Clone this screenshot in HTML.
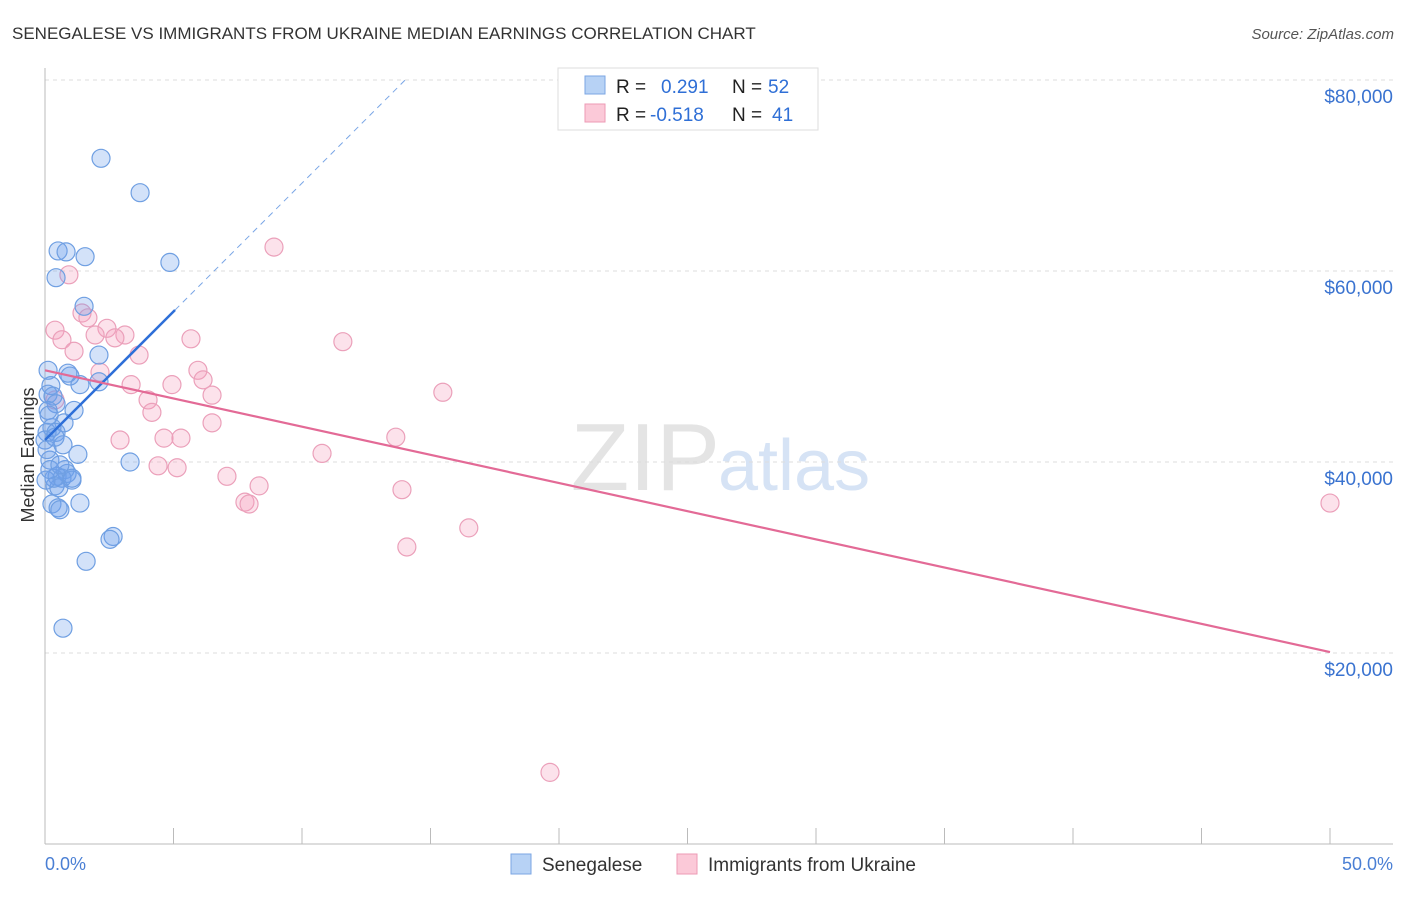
<!DOCTYPE html>
<html><head><meta charset="utf-8"><style>
body{margin:0;background:#fff;font-family:"Liberation Sans",sans-serif;}
svg text{font-family:"Liberation Sans",sans-serif;}
</style></head><body>
<svg id="c" width="1406" height="892" xmlns="http://www.w3.org/2000/svg">
<text x="12" y="39" font-size="17" fill="#333">SENEGALESE VS IMMIGRANTS FROM UKRAINE MEDIAN EARNINGS CORRELATION CHART</text>
<text x="1394" y="39" font-size="15" fill="#555" font-style="italic" text-anchor="end">Source: ZipAtlas.com</text>
<text x="720" y="490" font-size="96" fill="#e4e4e4" text-anchor="end" font-family="Liberation Serif">ZIP</text>
<text x="718" y="490" font-size="72" fill="#d6e3f5">atlas</text>
<g id="grid"></g>
<g id="pts"></g>
<g id="lines"></g>
<text x="34" y="455" font-size="18" fill="#333" text-anchor="middle" transform="rotate(-90 34 455)">Median Earnings</text>
<text x="45" y="870" font-size="18" fill="#4a7fd4">0.0%</text>
<text x="1393" y="870" font-size="18" fill="#4a7fd4" text-anchor="end">50.0%</text>
<g>
<rect x="558" y="68" width="260" height="62" fill="#fff" stroke="#ddd"/>
<rect x="585" y="76" width="20" height="18" fill="#b7d2f5" stroke="#7ba6e3"/>
<rect x="585" y="104" width="20" height="18" fill="#fbc9d8" stroke="#ec9ab5"/>
<text x="616" y="93" font-size="19" fill="#222">R = <tspan fill="#2f6fd6" x="661">0.291</tspan><tspan fill="#222" x="732">N = </tspan><tspan fill="#2f6fd6" x="768">52</tspan></text>
<text x="616" y="121" font-size="19" fill="#222">R = <tspan fill="#2f6fd6" x="650">-0.518</tspan><tspan fill="#222" x="732">N = </tspan><tspan fill="#2f6fd6" x="772">41</tspan></text>
</g>
<g>
<rect x="511" y="854" width="20" height="20" fill="#b7d2f5" stroke="#7ba6e3"/>
<text x="542" y="871" font-size="19" fill="#333">Senegalese</text>
<rect x="677" y="854" width="20" height="20" fill="#fbc9d8" stroke="#ec9ab5"/>
<text x="708" y="871" font-size="19" fill="#333">Immigrants from Ukraine</text>
</g>
</svg>
<script>
const yTicks=[20000,40000,60000,80000];
const yTickLabels=["$20,000","$40,000","$60,000","$80,000"];
const xTicks=[0,5,10,15,20,25,30,35,40,45,50];
const blueX=[2.18,3.70,0.51,0.82,1.56,4.86,0.43,1.52,2.10,0.12,0.89,0.97,2.10,1.36,0.23,0.12,0.31,0.43,1.13,0.12,0.74,0.27,0.08,0.43,0.70,1.28,0.19,3.31,0.78,0.86,0.47,0.66,1.05,0.39,0.54,1.36,0.27,0.51,0.58,2.65,2.53,1.60,0.70,0.0,0.35,0.04,0.19,0.08,0.39,0.58,1.05,0.16];
const blueY=[71800,68200,62100,62000,61500,60900,59300,56300,51200,49600,49300,49000,48400,48100,48000,47100,46900,46100,45400,45400,44100,43600,43100,43100,41800,40800,40200,40000,39200,38800,38500,38300,38100,37500,37300,35700,35600,35200,35000,32200,31900,29600,22600,42300,38300,38100,39200,41300,42600,39700,38300,44900];
const pinkX=[8.91,0.93,0.39,0.66,1.44,1.67,2.41,3.11,1.95,2.72,5.68,11.59,1.13,3.66,2.14,5.95,3.35,4.94,6.15,4.01,4.16,6.50,15.48,6.50,2.92,4.63,5.29,13.65,10.78,4.40,5.14,7.08,8.33,13.89,7.78,7.94,16.49,14.08,19.65,50.0,0.39];
const pinkY=[62500,59600,53800,52800,55600,55100,54000,53300,53300,53000,52900,52600,51600,51200,49400,49600,48100,48100,48600,46500,45200,47000,47300,44100,42300,42500,42500,42600,40900,39600,39400,38500,37500,37100,35800,35600,33100,31100,7500,35700,46500];
const blueTrend=[42300,2690]; // intercept, slope per %
const pinkTrend=[49600,-590];
const X=v=>45+v/50*1285;
const Y=v=>844-v/20000*191;
const NS="http://www.w3.org/2000/svg";
function mk(tag,attrs,parent){const e=document.createElementNS(NS,tag);for(const k in attrs)e.setAttribute(k,attrs[k]);parent.appendChild(e);return e;}
const grid=document.getElementById('grid');
yTicks.forEach((t,i)=>{
 const l=mk('line',{x1:45,x2:1393,y1:Y(t),y2:Y(t),stroke:'#ddd','stroke-dasharray':'4 4'},grid);
 
 
 const tx=mk('text',{x:1393,y:Y(t)+23,'font-size':19,fill:'#3a73d0','text-anchor':'end'},grid);
 tx.textContent=yTickLabels[i];
 
 
});
const tl=mk('line',{x1:45,x2:1393,y1:Y(80000),y2:Y(80000),stroke:'#ddd','stroke-dasharray':'4 4'},grid);
const ya=mk('line',{x1:45,x2:45,y1:68,y2:844,stroke:'#bbb'},grid);


const xa=mk('line',{x1:45,x2:1393,y1:844,y2:844,stroke:'#bbb'},grid);


xTicks.forEach(t=>{
 const l=mk('line',{x1:X(t),x2:X(t),y1:828,y2:844,stroke:'#bbb'},grid);
 
 
});
const pts=document.getElementById('pts');
pinkX.forEach((x,i)=>{
 const c=mk('circle',{cx:X(x),cy:Y(pinkY[i]),r:9,fill:'rgba(244,160,190,0.3)',stroke:'#eba0ba','stroke-width':1.2},pts);
 
 
});
blueX.forEach((x,i)=>{
 const c=mk('circle',{cx:X(x),cy:Y(blueY[i]),r:9,fill:'rgba(110,160,235,0.3)',stroke:'#6f9fe2','stroke-width':1.2},pts);
 
 
});
const lines=document.getElementById('lines');
const bx1=5.06;
const b1=mk('line',{x1:X(0),y1:Y(blueTrend[0]),x2:X(bx1),y2:Y(blueTrend[0]+blueTrend[1]*bx1),stroke:'#2e6fd8','stroke-width':2.5},lines);


const bx2=(80000-blueTrend[0])/blueTrend[1];
const b2=mk('line',{x1:X(bx1),y1:Y(blueTrend[0]+blueTrend[1]*bx1),x2:X(bx2),y2:Y(80000),stroke:'#7aa6e6','stroke-width':1,'stroke-dasharray':'6 5'},lines);


const p1=mk('line',{x1:X(0),y1:Y(pinkTrend[0]),x2:X(50),y2:Y(pinkTrend[0]+pinkTrend[1]*50),stroke:'#e36a96','stroke-width':2.2},lines);


</script>
</body></html>
